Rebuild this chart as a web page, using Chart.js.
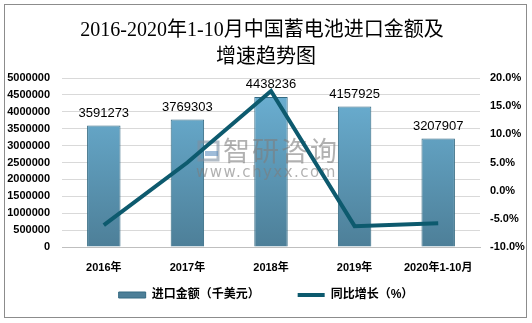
<!DOCTYPE html>
<html>
<head>
<meta charset="utf-8">
<script src="https://cdn.jsdelivr.net/npm/chart.js@4.4.1/dist/chart.umd.min.js"></script>
<style>
  html, body { margin: 0; padding: 0; background: #fff; }
  #wrap { width: 532px; height: 323px; }
</style>
</head>
<body>
<div id="wrap"><canvas id="myChart" width="532" height="323"></canvas></div>
<script>
const categories = ["2016年", "2017年", "2018年", "2019年", "2020年1-10月"];
const importValues = [3591273, 3769303, 4438236, 4157925, 3207907];
const growthRates = [-6.1, 5.0, 17.7, -6.3, -5.8];
const leftTicks = [0, 500000, 1000000, 1500000, 2000000, 2500000, 3000000, 3500000, 4000000, 4500000, 5000000];
const rightTicks = [-10, -5, 0, 5, 10, 15, 20];
const seriesNames = ["进口金额（千美元）", "同比增长（%）"];

const titleLines = ["2016-2020年1-10月中国蓄电池进口金额及", "增速趋势图"];
const FONT = "'Liberation Sans', 'Noto Sans CJK SC', sans-serif";

// 柱子渐变色
function barGradient(context) {
  const chart = context.chart;
  const area = chart.chartArea;
  if (!area) return "#5f9cbc";
  const g = chart.ctx.createLinearGradient(0, area.top, 0, area.bottom);
  g.addColorStop(0, "#6db3d7");
  g.addColorStop(1, "#4d7f98");
  return g;
}

// 外框、标题、水印、数值标签
const decorPlugin = {
  id: "decor",
  beforeDraw(chart) {
    const ctx = chart.ctx;
    ctx.save();
    ctx.strokeStyle = "#8c8c8c";
    ctx.lineWidth = 1;
    ctx.strokeRect(4.5, 4.5, 522, 313);
    ctx.fillStyle = "#000";
    ctx.textAlign = "center";
    ctx.textBaseline = "middle";
    ctx.font = "20px 'Liberation Serif', 'Noto Sans CJK SC', serif";
    ctx.fillText(titleLines[0], 262, 31);
    ctx.fillText(titleLines[1], 266, 58);
    ctx.restore();
  },
  afterDatasetDraw(chart, args) {
    if (args.index !== 0) return;
    const ctx = chart.ctx;
    ctx.save();
    ctx.globalAlpha = 0.6;
    ctx.fillStyle = "#7d7d7d";
    ctx.textBaseline = "middle";
    ctx.textAlign = "left";
    ctx.font = "27px 'Noto Sans CJK SC', sans-serif";
    ctx.letterSpacing = "2px";
    ctx.fillText("智研咨询", 223, 151);
    ctx.font = "15px 'DejaVu Sans', sans-serif";
    ctx.letterSpacing = "1.5px";
    ctx.fillText("www.chyxx.com", 196, 173);
    ctx.letterSpacing = "0px";
    // 标志
    ctx.strokeStyle = "#7f8fa0";
    ctx.lineWidth = 3;
    ctx.strokeRect(199, 142, 19, 18);
    ctx.fillStyle = "#5f8fc0";
    ctx.fillRect(205, 151, 13, 5);
    ctx.restore();

    // 柱顶数值
    const meta = chart.getDatasetMeta(0);
    ctx.save();
    ctx.fillStyle = "#000";
    ctx.font = "13px " + FONT;
    ctx.textAlign = "center";
    ctx.textBaseline = "bottom";
    meta.data.forEach((bar, i) => {
      ctx.fillText(String(importValues[i]), bar.x, bar.y - 6);
    });
    ctx.restore();
  }
};

const ctx = document.getElementById("myChart").getContext("2d");
new Chart(ctx, {
  data: {
    labels: categories,
    datasets: [
      {
        type: "bar",
        label: seriesNames[0] + "\u3000\u3000\u3000",
        data: importValues,
        yAxisID: "y",
        order: 1,
        backgroundColor: barGradient,
        borderColor: "#346a82",
        borderWidth: 1,
        barPercentage: 0.4,
        categoryPercentage: 1.0,
        pointStyle: "rect"
      },
      {
        type: "line",
        label: seriesNames[1],
        data: growthRates,
        yAxisID: "y1",
        order: 0,
        borderColor: "#0d5a6e",
        backgroundColor: "#0d5a6e",
        borderWidth: 4,
        pointRadius: 0,
        tension: 0,
        pointStyle: "line"
      }
    ]
  },
  options: {
    responsive: false,
    animation: false,
    layout: { padding: { top: 78, left: 5, right: 5, bottom: 12 } },
    plugins: {
      tooltip: { enabled: false },
      legend: {
        position: "bottom",
        labels: {
          usePointStyle: true,
          pointStyleWidth: 27,
          boxHeight: 6,
          padding: 8,
          color: "#000",
          font: { family: FONT, size: 12, weight: "bold" },
          sort: (a, b) => a.datasetIndex - b.datasetIndex
        }
      }
    },
    scales: {
      x: {
        grid: { display: false, drawTicks: false },
        border: { display: true, color: "#bfbfbf" },
        ticks: {
          color: "#000",
          padding: 14,
          font: { family: FONT, size: 11, weight: "bold" }
        },
        afterFit(scale) { scale.height = 34; }
      },
      y: {
        position: "left",
        min: 0,
        max: 5000000,
        afterBuildTicks(scale) { scale.ticks = leftTicks.map(v => ({ value: v })); },
        grid: { color: "#d9d9d9", drawTicks: false },
        border: { display: false },
        ticks: {
          autoSkip: false,
          color: "#000",
          padding: 12,
          font: { family: FONT, size: 11, weight: "bold" },
          callback: v => String(v)
        },
        afterFit(scale) { scale.width = 57; }
      },
      y1: {
        position: "right",
        min: -10,
        max: 20,
        afterBuildTicks(scale) { scale.ticks = rightTicks.map(v => ({ value: v })); },
        grid: { display: false, drawTicks: false },
        border: { display: false },
        ticks: {
          autoSkip: false,
          color: "#000",
          padding: 10,
          font: { family: FONT, size: 11, weight: "bold" },
          callback: v => v.toFixed(1) + "%"
        },
        afterFit(scale) { scale.width = 47; }
      }
    }
  },
  plugins: [decorPlugin]
});
</script>
</body>
</html>
